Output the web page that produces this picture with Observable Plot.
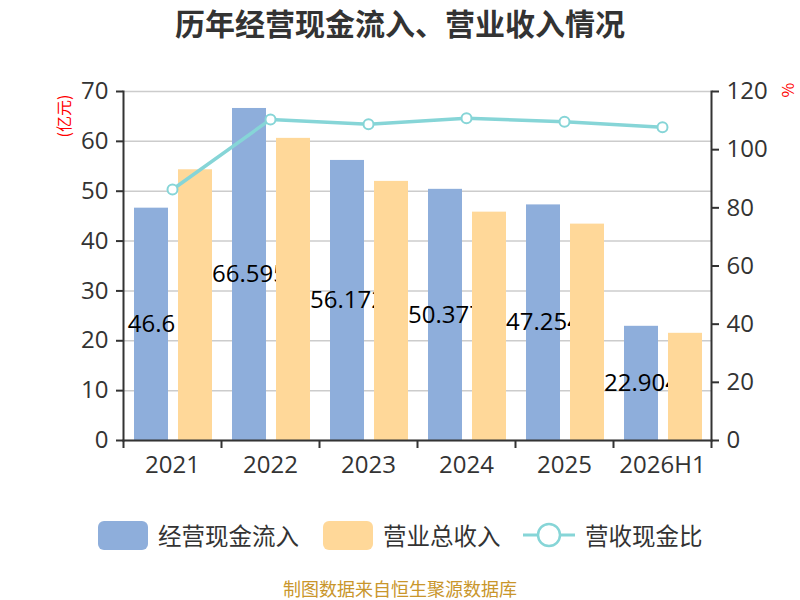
<!DOCTYPE html>
<html>
<head>
<meta charset="utf-8">
<script src="https://cdn.jsdelivr.net/npm/d3@7"></script>
<script src="https://cdn.jsdelivr.net/npm/@observablehq/plot@0.6"></script>
<style>
  html, body { margin: 0; padding: 0; background: #fff; }
  body { width: 800px; height: 600px; position: relative; overflow: hidden;
         font-family: "Open Sans", "Noto Sans CJK SC", sans-serif; color: #333; }
  #title { position: absolute; left: 0; top: 1px; width: 800px; text-align: center; line-height: 42px;
           font-family: "Noto Sans CJK SC", sans-serif; font-weight: bold; font-size: 30px; color: #333; }
  #chart { position: absolute; left: 0; top: 0; }
  .yname { position: absolute; color: #f00; font-size: 16px; font-family: "Noto Sans CJK SC", sans-serif;
           transform: translate(-50%, -50%) rotate(-90deg); white-space: nowrap; }
  #legend { position: absolute; left: 0; top: 517px; width: 800px; height: 36px; }
  .lg { position: absolute; top: 0; height: 36px; display: flex; align-items: center;
        font-family: "Noto Sans CJK SC", sans-serif; font-size: 23.5px; color: #333; white-space: nowrap; }
  .sw { width: 50px; height: 29px; border-radius: 6px; margin-right: 10px; }
  #caption { position: absolute; left: 0; top: 578px; width: 800px; height: 20px; line-height: 20px; text-align: center;
             font-family: "Noto Sans CJK SC", sans-serif; font-size: 18px; color: #c9962b; }
</style>
</head>
<body>
<div id="chart"></div>
<div id="title">历年经营现金流入、营业收入情况</div>
<div class="yname" style="left:63px; top:116px;">(亿元)</div>
<div class="yname" style="left:787px; top:90px;">%</div>
<div id="legend"></div>
<div id="caption">制图数据来自恒生聚源数据库</div>
<script>
const years = ["2021", "2022", "2023", "2024", "2025", "2026H1"];
const cashIn = [46.6, 66.595, 56.172, 50.377, 47.254, 22.904];
const revenue = [54.3, 60.6, 51.97, 45.8, 43.4, 21.5];
const ratio = [86.3, 110.4, 108.7, 110.8, 109.6, 107.7];
const leftTicks = [0, 10, 20, 30, 40, 50, 60, 70];
const rightTicks = [0, 20, 40, 60, 80, 100, 120];
const seriesNames = ["经营现金流入", "营业总收入", "营收现金比"];

const blue = "#8eaedb";
const yellow = "#ffd899";
const teal = "#86d5d7";
const leftMax = 70, rightMax = 120;
const toLeft = v => v * leftMax / rightMax;

const data = years.map((y, i) => ({year: y, cash: cashIn[i], rev: revenue[i], ratio: ratio[i]}));
const bandHalf = (800 - 123 - 89) / years.length / 2;

const plot = Plot.plot({
  width: 800,
  height: 500,
  marginLeft: 123,
  marginRight: 89,
  marginTop: 91,
  marginBottom: 60,
  style: {fontFamily: "'Open Sans', 'Noto Sans CJK SC', sans-serif", color: "#333", background: "transparent", overflow: "visible"},
  x: {domain: years, padding: 0},
  y: {domain: [0, leftMax]},
  marks: [
    Plot.gridY(leftTicks, {stroke: "#cccccc", strokeOpacity: 1, strokeWidth: 1.5}),
    Plot.barY(data, {x: "year", y: "cash", fill: blue, insetLeft: 11, insetRight: 53}),
    Plot.text(data, {x: "year", y: d => d.cash / 2, text: d => String(d.cash), dx: -21, fontSize: 24, fill: "#000"}),
    Plot.barY(data, {x: "year", y: "rev", fill: yellow, insetLeft: 55, insetRight: 9}),
    Plot.line(data, {x: "year", y: d => toLeft(d.ratio), stroke: teal, strokeWidth: 3.5}),
    Plot.dot(data, {x: "year", y: d => toLeft(d.ratio), r: 5, fill: "white", stroke: teal, strokeWidth: 2}),
    Plot.axisY({anchor: "left", ticks: leftTicks, tickSize: 7, tickPadding: 8, fontSize: 24, tickFormat: d => d, label: null, strokeWidth: 2}),
    Plot.axisY({anchor: "right", ticks: rightTicks.map(toLeft), tickSize: 7, tickPadding: 8, fontSize: 24,
                tickFormat: d => Math.round(d * rightMax / leftMax), label: null, strokeWidth: 2}),
    Plot.axisX({anchor: "bottom", tickSize: 0, tickPadding: 15, fontSize: 24, label: null}),
    Plot.axisX({anchor: "bottom", ticks: years, tickSize: 8, dx: -bandHalf, tickFormat: null, label: null, strokeWidth: 2}),
    Plot.axisX({anchor: "bottom", ticks: [years[years.length - 1]], tickSize: 8, dx: bandHalf, tickFormat: null, label: null, strokeWidth: 2}),
    Plot.frame({anchor: "left", stroke: "#333", strokeWidth: 2}),
    Plot.frame({anchor: "right", stroke: "#333", strokeWidth: 2}),
    Plot.frame({anchor: "bottom", stroke: "#333", strokeWidth: 2})
  ]
});
document.getElementById("chart").appendChild(plot);

// Legend
const legend = document.getElementById("legend");
const items = [
  {name: seriesNames[0], left: 98, kind: "bar", color: blue},
  {name: seriesNames[1], left: 323, kind: "bar", color: yellow},
  {name: seriesNames[2], left: 523, kind: "line", color: teal}
];
for (const it of items) {
  const div = document.createElement("div");
  div.className = "lg";
  div.style.left = it.left + "px";
  if (it.kind === "bar") {
    const sw = document.createElement("div");
    sw.className = "sw";
    sw.style.background = it.color;
    div.appendChild(sw);
  } else {
    const s = d3.create("svg").attr("width", 52).attr("height", 30).style("margin-right", "10px");
    s.append("line").attr("x1", 0).attr("x2", 52).attr("y1", 15).attr("y2", 15).attr("stroke", it.color).attr("stroke-width", 3);
    s.append("circle").attr("cx", 26).attr("cy", 15).attr("r", 11).attr("fill", "white").attr("stroke", it.color).attr("stroke-width", 2.5);
    div.appendChild(s.node());
  }
  const t = document.createElement("span");
  t.textContent = it.name;
  div.appendChild(t);
  legend.appendChild(div);
}
</script>
</body>
</html>
